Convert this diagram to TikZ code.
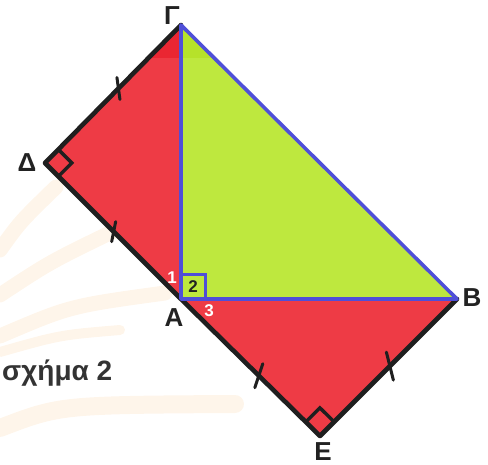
\documentclass[tikz,border=0pt]{standalone}
\usepackage{fontspec}
\setmainfont{Liberation Sans}
\usetikzlibrary{calc}
\definecolor{redf}{HTML}{EE3B45}
\definecolor{redd}{HTML}{EA2632}
\definecolor{grnf}{HTML}{BEE83E}
\definecolor{grnd}{HTML}{B6E22A}
\definecolor{bl}{HTML}{4F4FD8}
\definecolor{wm}{HTML}{FEF5EA}
\definecolor{lab}{HTML}{222222}
\begin{document}
\begin{tikzpicture}[x=1pt,y=-1pt,
  blk/.style={line width=4.6pt,black!88,line cap=round,line join=round},
  blu/.style={line width=3.6pt,bl,line cap=round,line join=round},
  ang/.style={line width=3.4pt,black!88,line join=miter},
  tick/.style={line width=3pt,black!88,line cap=round},
  wmk/.style={line width=15pt,wm,line cap=round},
  lbl/.style={font=\bfseries\fontsize{26}{26}\selectfont,text=lab,inner sep=0pt},
  num/.style={font=\bfseries\fontsize{17}{17}\selectfont,inner sep=0pt}]
\useasboundingbox (0,0) rectangle (488,465);
% watermark
\draw[wmk] (0,250) .. controls (20,222) .. (56,187);
\draw[wmk] (0,295) .. controls (50,262) .. (116,230);
\draw[wmk] (0,336) .. controls (70,306) .. (165,293);
\draw[wmk,line width=10pt] (0,352) .. controls (60,335) .. (120,330);
\draw[wmk,line width=18pt] (0,428) .. controls (60,405) .. (235,404);
% vertices
\coordinate (G) at (181,25);
\coordinate (D) at (45,163);
\coordinate (A) at (181,299);
\coordinate (B) at (457,299);
\coordinate (E) at (320,436);
% fills
\fill[redf] (G) -- (D) -- (A) -- cycle;
\fill[redf] (A) -- (E) -- (B) -- cycle;
\fill[grnf] (G) -- (A) -- (B) -- cycle;
\begin{scope}
  \clip (G) -- (D) -- (A) -- cycle;
  \fill[redd] (0,0) rectangle (488,58);
\end{scope}
\begin{scope}
  \clip (G) -- (A) -- (B) -- cycle;
  \fill[grnd] (0,0) rectangle (488,58);
\end{scope}
% right angle at A (blue)
\coordinate (A1) at ($(A)+(0,-24)$);
\coordinate (A2) at ($(A)+(24,-24)$);
\coordinate (A3) at ($(A)+(24,0)$);
\draw[blu,line width=3pt,line cap=butt,line join=miter] (A1) -- (A2) -- (A3);
% black sides
\draw[blk] (G) -- (D) -- (A) -- (E) -- (B);
% blue sides
\draw[blu] (A) -- (G) -- (B) -- (A);
% right angles at D and E
\coordinate (D1) at ($(D)!19pt!(G)$);
\coordinate (D2) at ($(D)!19pt!(A)$);
\coordinate (D3) at ($(D1)+(D2)-(D)$);
\draw[ang] (D1) -- (D3) -- (D2);
\coordinate (E1) at ($(E)!20pt!(A)$);
\coordinate (E2) at ($(E)!20pt!(B)$);
\coordinate (E3) at ($(E1)+(E2)-(E)$);
\draw[ang] (E1) -- (E3) -- (E2);
% ticks
\coordinate (t1) at ($(G)!0.46!(D)$);
\coordinate (t2) at ($(D)!0.505!(A)$);
\coordinate (t3) at ($(A)!0.56!(E)$);
\coordinate (t4) at ($(E)!0.51!(B)$);
\draw[tick] ($(t1)+(-1.5,-11)$) -- ($(t1)+(1.5,11)$);
\draw[tick] ($(t2)+(2,-10)$) -- ($(t2)+(-2,10)$);
\draw[tick] ($(t3)+(4,-12)$) -- ($(t3)+(-4,12)$);
\draw[tick] ($(t4)+(-3.5,-14)$) -- ($(t4)+(3.5,14)$);
% labels
\node[lbl] (lG) at (172,16) {Γ};
\node[lbl] (lD) at (27,163) {Δ};
\node[lbl] (lA) at (174,318) {A};
\node[lbl] (lB) at (472,298) {B};
\node[lbl] (lE) at (323,452) {E};
\node[num,text=white] (n1) at (172,278) {1};
\node[num,text=lab] (n2) at (193,287) {2};
\node[num,text=white] (n3) at (209,311) {3};
\node[font=\bfseries\fontsize{28}{28}\selectfont,text=black!80,anchor=west,inner sep=0pt] (cap) at (2,373) {σχήμα 2};
\end{tikzpicture}
\end{document}
